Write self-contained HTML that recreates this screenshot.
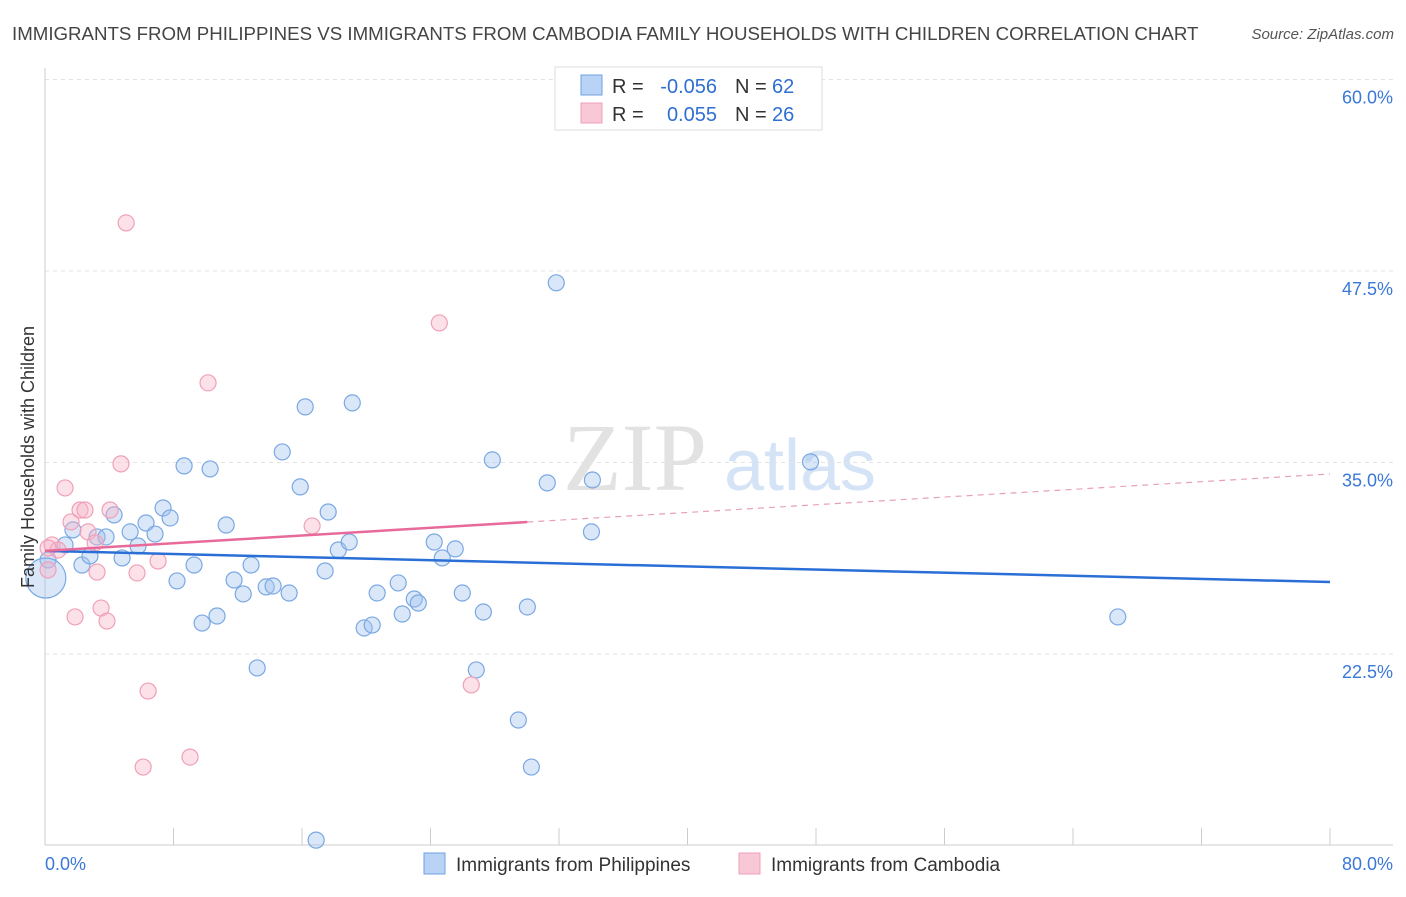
<!DOCTYPE html>
<html><head><meta charset="utf-8"><style>
body{margin:0;background:#fff;font-family:"Liberation Sans",sans-serif}
</style></head><body>
<svg id="chart" width="1406" height="892" xmlns="http://www.w3.org/2000/svg" font-family="Liberation Sans, sans-serif">
<text x="12" y="40" font-size="18.7" fill="#444">IMMIGRANTS FROM PHILIPPINES VS IMMIGRANTS FROM CAMBODIA FAMILY HOUSEHOLDS WITH CHILDREN CORRELATION CHART</text>
<text x="1394" y="39" font-size="15" fill="#555" font-style="italic" text-anchor="end">Source: ZipAtlas.com</text>
<g>
<text x="635" y="490" font-size="96" font-family="Liberation Serif, serif" fill="#e2e2e2" text-anchor="middle">ZIP</text>
<text x="800" y="490" font-size="72" fill="#d4e3f5" text-anchor="middle">atlas</text>
</g>
<g id="grid"></g><g id="axes"></g><g id="marks"></g>
<text transform="translate(34,457) rotate(-90)" font-size="18" fill="#333" text-anchor="middle">Family Households with Children</text>
<g font-size="20">
<rect x="555" y="67" width="267" height="63" fill="#fff" stroke="#ddd"/>
<rect x="581" y="75" width="21" height="20" fill="#b8d3f5" stroke="#6fa1e0"/>
<rect x="581" y="103" width="21" height="20" fill="#f9c8d6" stroke="#f0a0b8"/>
<text x="612" y="93" fill="#333">R =</text>
<text x="717" y="93" fill="#2f6fd3" text-anchor="end">-0.056</text>
<text x="735" y="93" fill="#333">N =</text>
<text x="772" y="93" fill="#2f6fd3">62</text>
<text x="612" y="121" fill="#333">R =</text>
<text x="717" y="121" fill="#2f6fd3" text-anchor="end">0.055</text>
<text x="735" y="121" fill="#333">N =</text>
<text x="772" y="121" fill="#2f6fd3">26</text>
</g>
<g>
<rect x="424" y="853" width="21" height="21" fill="#b8d3f5" stroke="#6fa1e0"/>
<text x="456" y="871" font-size="19" fill="#333">Immigrants from Philippines</text>
<rect x="739" y="853" width="21" height="21" fill="#f9c8d6" stroke="#f0a0b8"/>
<text x="771" y="871" font-size="19" fill="#333">Immigrants from Cambodia</text>
</g>
</svg>
<script>
const yTicks=[22.5,35.0,47.5,60.0];
const yTickLabels=["22.5%","35.0%","47.5%","60.0%"];
const xTickLabels=["0.0%","80.0%"];
const phX=[0.19,0.05,1.25,1.74,2.30,2.80,3.24,3.80,4.30,4.80,5.30,5.79,6.29,6.85,7.35,7.79,8.22,8.66,9.28,9.78,10.28,10.71,11.28,11.77,12.34,12.83,13.21,13.77,14.20,14.77,15.20,15.89,16.20,16.88,17.44,17.63,18.26,18.94,19.13,19.87,20.37,20.68,21.99,22.24,22.99,23.24,24.23,24.73,25.54,25.98,26.85,27.29,27.85,29.47,30.03,30.28,31.27,31.83,34.08,34.02,47.66,66.79];
const phY=[28.64,27.46,29.62,30.60,28.31,28.90,30.14,30.14,31.58,28.77,30.47,29.55,31.05,30.33,32.03,31.38,27.27,34.78,28.31,24.52,34.58,24.98,30.92,27.33,26.42,28.31,21.59,26.88,26.94,35.69,26.48,33.41,38.63,10.35,27.92,31.77,29.29,29.81,38.89,24.20,24.39,26.48,27.14,25.11,26.09,25.83,29.81,28.77,29.36,26.48,21.46,25.24,35.17,18.19,25.57,15.12,33.67,46.73,33.86,30.47,35.04,24.92];
const caX=[0.19,0.44,0.81,1.25,1.62,1.87,2.18,2.49,2.68,3.12,3.24,3.49,3.86,4.05,4.73,5.05,5.73,6.11,6.42,7.04,9.03,10.15,16.63,24.55,26.54,0.19];
const caY=[27.99,29.62,29.29,33.34,31.12,24.92,31.90,31.90,30.47,29.75,27.85,25.50,24.65,31.90,34.91,50.64,27.79,15.12,20.08,28.57,15.77,40.20,30.86,44.11,20.48,29.42];
const phTrend=[29.23,27.20];
const caTrend=[29.23,34.25];
const caSolidEnd=30.03;
const NS="http://www.w3.org/2000/svg";
const xs=v=>45+v/80*1285;
const ys=v=>654-(v-22.5)*15.32;
function mk(t,a,p){const e=document.createElementNS(NS,t);for(const k in a)e.setAttribute(k,a[k]);document.getElementById(p).appendChild(e);return e;}
yTicks.forEach((v,i)=>{
 const l=mk('line',{x1:45,x2:1393,y1:ys(v),y2:ys(v),stroke:'#e3e3e3','stroke-dasharray':'4,4'},'grid');
 
 
 const t=mk('text',{x:1393,y:ys(v)+24,'font-size':18,fill:'#3a78d8','text-anchor':'end'},'grid');
 t.textContent=yTickLabels[i];
 
 
});
const ax=mk('line',{x1:45,x2:45,y1:68,y2:845,stroke:'#ccc'},'axes');


const bx=mk('line',{x1:45,x2:1393,y1:845,y2:845,stroke:'#ccc'},'axes');


for(let i=0;i<=10;i++){const t=mk('line',{x1:xs(i*8),x2:xs(i*8),y1:828,y2:845,stroke:'#ccc'},'axes');
 
 }
[[0,'start',45],[80,'end',1393]].forEach((d,i)=>{const t=mk('text',{x:d[2],y:870,'font-size':18,fill:'#3a78d8','text-anchor':d[1]},'axes');t.textContent=xTickLabels[i];
 
 });
phX.forEach((x,i)=>{const c=mk('circle',{cx:xs(x),cy:ys(phY[i]),r:i==1?20:8,fill:'rgba(160,196,240,0.4)',stroke:'#7aa8e2','stroke-width':1.2},'marks');
 
 });
caX.forEach((x,i)=>{const c=mk('circle',{cx:xs(x),cy:ys(caY[i]),r:8,fill:'rgba(248,180,200,0.4)',stroke:'#f0a0b8','stroke-width':1.2},'marks');
 
 });
const pl=mk('line',{x1:xs(0),y1:ys(phTrend[0]),x2:xs(80),y2:ys(phTrend[1]),stroke:'#2a6fd6','stroke-width':2.5},'marks');


const cm=caTrend[0]+(caTrend[1]-caTrend[0])*caSolidEnd/80;
const cl=mk('line',{x1:xs(0),y1:ys(caTrend[0]),x2:xs(caSolidEnd),y2:ys(cm),stroke:'#e86a9a','stroke-width':2.5},'marks');


const cd=mk('line',{x1:xs(caSolidEnd),y1:ys(cm),x2:xs(80),y2:ys(caTrend[1]),stroke:'#e8a0b8','stroke-width':1.2,'stroke-dasharray':'6,5'},'marks');


</script>
</body></html>
